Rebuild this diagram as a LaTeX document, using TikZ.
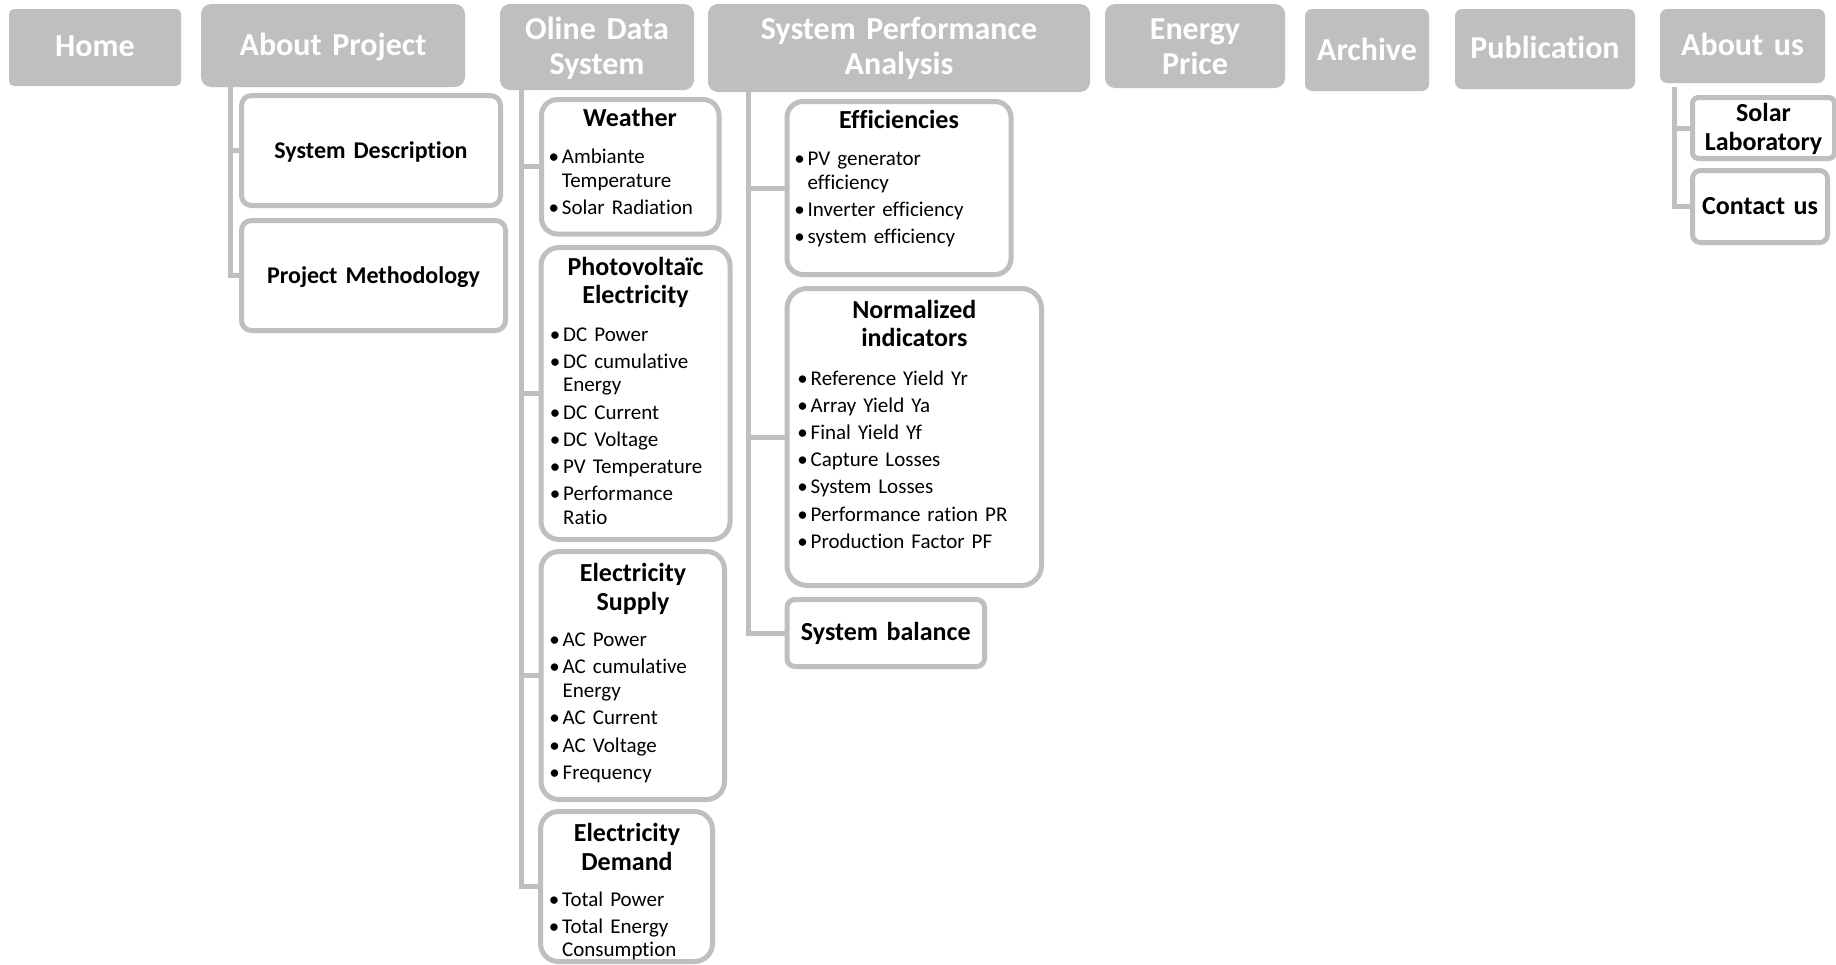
\documentclass[tikz,border=0pt]{standalone}
\usepackage{fontspec}
\setmainfont{Carlito}[Ligatures={NoCommon}]
\definecolor{gr}{HTML}{BFBFBF}
\newcommand\bitem[1]{\hangindent=16pt\hangafter=1\noindent\makebox[16pt][c]{\textbullet}#1\par}
\newcommand\topnode[6]{\node[topbox, rounded corners=#6pt, minimum width={#4-#2}, minimum height={#5-#3}] (#1) at ({(#2+#4)/2},{(#3+#5)/2}) {};}
\newcommand\childnode[6]{\node[childbox, rounded corners=#6pt, minimum width={#4-#2-5}, minimum height={#5-#3-5}] (#1) at ({(#2+#4)/2},{(#3+#5)/2}) {};}
\tikzset{
  topbox/.style={fill=gr, draw=none, inner sep=0pt},
  childbox/.style={fill=white, draw=gr, line width=5pt, inner sep=0pt},
  toplbl/.style={anchor=base, inner sep=0pt, text width=370pt, align=center, text=white, font=\fontsize{32}{35}\selectfont\bfseries},
  ttl/.style={anchor=base, inner sep=0pt, text width=240pt, align=center, text=black, font=\fontsize{26}{28.5}\selectfont\bfseries},
  ttlsmall/.style={ttl, font=\fontsize{24}{28}\selectfont\bfseries},
  lst/.style={anchor=base west, inner sep=0pt, text width=260pt, align=left, text=black, font=\fontsize{21}{23.7}\selectfont},
  conn/.style={draw=gr, line width=5pt}
}
\begin{document}
\begin{tikzpicture}[x=1pt,y=-1pt]
\useasboundingbox (0,0) rectangle (1836,964);
\fill[white] (0,0) rectangle (1836,964);
% top row
\topnode{home}{9}{9}{181}{86}{5}
\topnode{ap}{201}{4}{465}{87}{10}
\topnode{ods}{500}{4}{694}{90}{10}
\topnode{spa}{708}{4}{1090}{92}{10}
\topnode{ep}{1105}{4}{1285}{88}{10}
\topnode{arc}{1305}{9}{1429}{91}{7}
\topnode{pub}{1455}{9}{1635}{89}{7}
\topnode{au}{1660}{9}{1825}{83}{7}
\node[toplbl] (home-l) at (95,56.7) {Home};
\node[toplbl] (ap-l) at (333,55.5) {About Project};
\node[toplbl] (ods-l) at (597,39.3) {Oline Data\\System};
\node[toplbl] (spa-l) at (899,39.3) {System Performance\\Analysis};
\node[toplbl] (ep-l) at (1195,39.5) {Energy\\Price};
\node[toplbl] (arc-l) at (1367,60) {Archive};
\node[toplbl] (pub-l) at (1545,58.5) {Publication};
\node[toplbl] (au-l) at (1742.5,55.5) {About us};
% child boxes
\childnode{sd}{239}{93}{503}{208}{10}
\childnode{pm}{239}{218}{508}{333}{10}
\childnode{we}{539}{97}{721.5}{236.5}{16}
\childnode{pv}{538.5}{245}{732.5}{542}{18}
\childnode{es}{538.5}{549}{727}{802}{18}
\childnode{ed}{538}{809}{715}{964}{18}
\childnode{ef}{784.5}{99}{1013.5}{277}{16}
\childnode{ni}{784.5}{286}{1044}{588}{20}
\childnode{sb}{784.5}{597}{987}{669}{8}
\childnode{sl}{1690}{95}{1837}{161}{6}
\childnode{cu}{1690}{168}{1830}{245}{8}
% connectors
\draw[conn] ([xshift=29.5pt]ap.south west) |- (sd.west);
\draw[conn] ([xshift=29.5pt]ap.south west) |- (pm.west);
\draw[conn] ([xshift=22pt]ods.south west) |- (we.west);
\draw[conn] ([xshift=22pt]ods.south west) |- (pv.west);
\draw[conn] ([xshift=22pt]ods.south west) |- (es.west);
\draw[conn] ([xshift=22pt]ods.south west) |- (ed.west);
\draw[conn] ([xshift=40.5pt]spa.south west) |- (ef.west);
\draw[conn] ([xshift=40.5pt]spa.south west) |- (ni.west);
\draw[conn] ([xshift=40.5pt]spa.south west) |- (sb.west);
\draw[conn] ([xshift=15pt,yshift=-4pt]au.south west) |- (sl.west);
\draw[conn] ([xshift=15pt,yshift=-4pt]au.south west) |- (cu.west);
% titles
\node[ttlsmall] (sd-t) at (371,158.3) {System Description};
\node[ttlsmall] (pm-t) at (373.5,283) {Project Methodology};
\node[ttl] (we-t) at (630,126.7) {Weather};
\node[ttl] (pv-t) at (635.5,275) {Photovoltaïc\\Electricity};
\node[ttl] (es-t) at (633,581.7) {Electricity\\Supply};
\node[ttl] (ed-t) at (627,841.7) {Electricity\\Demand};
\node[ttl] (ef-t) at (899,128.3) {Efficiencies};
\node[ttl] (ni-t) at (914.3,318.3) {Normalized\\indicators};
\node[ttl] (sb-t) at (885.75,640.7) {System balance};
\node[ttl] (sl-t) at (1763.5,121.7) {Solar\\Laboratory};
\node[ttl] (cu-t) at (1760,214.3) {Contact us};
% lists
\node[lst] (we-l) at (545.7,163.3) {\setlength\parskip{3.5pt}\bitem{Ambiante\newline Temperature}\bitem{Solar Radiation}};
\node[lst] (pv-l) at (547,341) {\setlength\parskip{3.5pt}\bitem{DC Power}\bitem{DC cumulative\newline Energy}\bitem{DC Current}\bitem{DC Voltage}\bitem{PV Temperature}\bitem{Performance\newline Ratio}};
\node[lst] (es-l) at (546.5,646.7) {\setlength\parskip{3.5pt}\bitem{AC Power}\bitem{AC cumulative\newline Energy}\bitem{AC Current}\bitem{AC Voltage}\bitem{Frequency}};
\node[lst] (ed-l) at (546,906) {\setlength\parskip{3.5pt}\bitem{Total Power}\bitem{Total Energy\newline Consumption}};
\node[lst] (ef-l) at (791.5,165.7) {\setlength\parskip{3.5pt}\bitem{PV generator\newline efficiency}\bitem{Inverter efficiency}\bitem{system efficiency}};
\node[lst] (ni-l) at (794.5,385) {\setlength\parskip{3.5pt}\bitem{Reference Yield Yr}\bitem{Array Yield Ya}\bitem{Final Yield Yf}\bitem{Capture Losses}\bitem{System Losses}\bitem{Performance ration PR}\bitem{Production Factor PF}};
\end{tikzpicture}
\end{document}
